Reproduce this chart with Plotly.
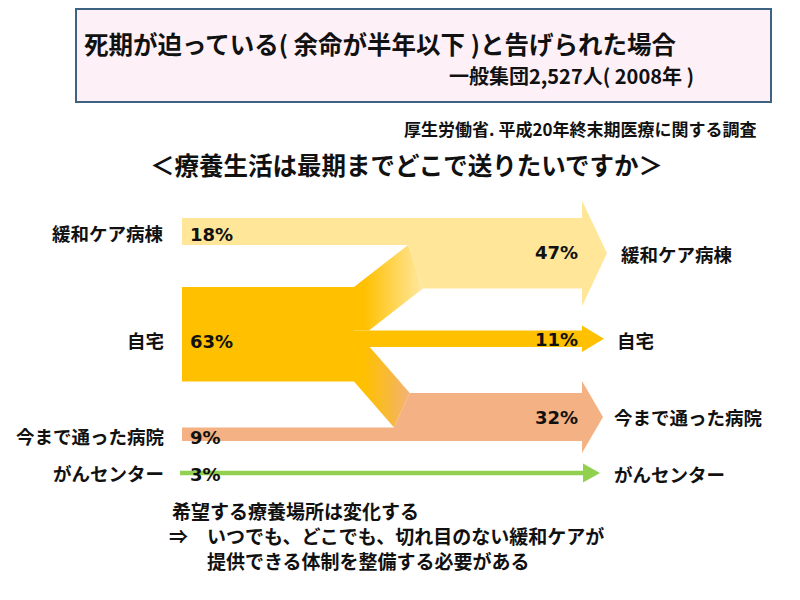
import math
import plotly.graph_objects as go

# ---------------- data ----------------
left_labels = ["緩和ケア病棟", "自宅", "今まで通った病院", "がんセンター"]
right_labels = ["緩和ケア病棟", "自宅", "今まで通った病院", "がんセンター"]
left_values = [18, 63, 9, 3]      # 現在の希望 (%)
right_values = [47, 11, 32, 3]    # 最期までの希望 (%)

title_text = "死期が迫っている( 余命が半年以下 )と告げられた場合"
subtitle_text = "一般集団2,527人( 2008年 )"
source_text = "厚生労働省. 平成20年終末期医療に関する調査"
heading_text = "＜療養生活は最期までどこで送りたいですか＞"
note_lines = ["希望する療養場所は変化する",
              "⇒　いつでも、どこでも、切れ目のない緩和ケアが",
              "提供できる体制を整備する必要がある"]

# flows from 自宅 (derived from the data)
home_to_pcu = right_values[0] - left_values[0]
home_to_home = right_values[1]
home_to_hosp = right_values[2] - left_values[2]

# ---------------- styles / layout ----------------
LIGHT = "#FFE699"
GOLD = "#FFC000"
SALMON = "#F4B183"
GREEN = "#92D050"
JP = "Noto Sans CJK JP"
NUM = "DejaVu Sans"

K = 1.5          # pixels per percent
X0 = 182         # left edge of the bands
XS = 354         # split position of 自宅 block
XE = 582         # end of arrow shafts
PCU_TOP = 218
HOME_TOP = 287
HOSP_BOT = 441
GREEN_Y = 473
L1, L2 = 54, 40  # horizontal run of the diagonal branches

fig = go.Figure()


def poly(xs, ys, color=None, grad=None):
    kw = dict(x=list(xs) + [xs[0]], y=list(ys) + [ys[0]], mode="lines",
              line=dict(width=0), fill="toself", hoverinfo="skip",
              showlegend=False)
    if grad:
        kw["fillgradient"] = grad
    else:
        kw["fillcolor"] = color
    fig.add_trace(go.Scatter(**kw))


# band geometry from values
pcu_small_b = PCU_TOP + left_values[0] * K
pcu_big_b = PCU_TOP + right_values[0] * K
home_b = HOME_TOP + left_values[1] * K
mid_t = HOME_TOP + home_to_pcu * K
mid_b = mid_t + home_to_home * K
hosp_t = HOSP_BOT - right_values[2] * K
hosp_mid = HOSP_BOT - left_values[2] * K

# upper diagonal branch (自宅 -> 緩和ケア病棟)
s1 = (pcu_small_b - HOME_TOP) / L1
V1 = home_to_pcu * K * math.sqrt(1 + s1 * s1)
Xr = XS + (pcu_big_b - HOME_TOP - V1) / s1
Xn1 = XS + (mid_t - HOME_TOP - V1) / s1

# lower diagonal branch (自宅 -> 今まで通った病院)
s2 = (hosp_mid - home_b) / L2
V2 = home_to_hosp * K * math.sqrt(1 + s2 * s2)
Xu = XS + (hosp_t - home_b + V2) / s2
Xn2 = XS + (mid_b - home_b + V2) / s2

# 緩和ケア病棟 arrow (its left end is cut along the branch)
ext = 0.25 * right_values[0] * K
cy = (PCU_TOP + pcu_big_b) / 2
poly([X0, XE, XE, XE + 25, XE, XE, Xr, XS + L1, X0],
     [PCU_TOP, PCU_TOP, PCU_TOP - ext, cy, pcu_big_b + ext, pcu_big_b,
      pcu_big_b, pcu_small_b, pcu_small_b], LIGHT)

# 今まで通った病院 arrow
ext = 0.25 * right_values[2] * K
cy = (hosp_t + HOSP_BOT) / 2
poly([X0, XE, XE, XE + 21, XE, XE, Xu, XS + L2, X0],
     [HOSP_BOT, HOSP_BOT, HOSP_BOT + ext, cy, hosp_t - ext, hosp_t,
      hosp_t, hosp_mid, hosp_mid], SALMON)

# 自宅 block
poly([X0, XS, XS, X0], [HOME_TOP, HOME_TOP, home_b, home_b], GOLD)

# 自宅 arrow
ext = 5
cy = (mid_t + mid_b) / 2
poly([XS, XE, XE, XE + 22, XE, XE, XS],
     [mid_t, mid_t, mid_t - ext, cy, mid_b + ext, mid_b, mid_b], GOLD)

# diagonal branches with gradients
poly([XS, XS + L1, Xr, Xn1, XS],
     [HOME_TOP, pcu_small_b, pcu_big_b, mid_t, mid_t],
     grad=dict(type="horizontal", colorscale=[[0, GOLD], [1, LIGHT]],
               start=XS + 10, stop=XS + 66))
poly([XS, XS + L2, Xu, Xn2, XS],
     [home_b, hosp_mid, hosp_t, mid_b, mid_b],
     grad=dict(type="horizontal",
               colorscale=[[0, GOLD], [0.6, "#F7B840"], [1, "#F4B27A"]],
               start=XS + 10, stop=Xu))

# がんセンター thin arrow
t = left_values[3] * K / 2
poly([X0 - 2, XE + 1, XE + 1, XE + 18, XE + 1, XE + 1, X0 - 2],
     [GREEN_Y - t, GREEN_Y - t, GREEN_Y - 9.5, GREEN_Y, GREEN_Y + 9.5,
      GREEN_Y + t, GREEN_Y + t], GREEN)

# ---------------- texts ----------------
ann = []


def txt(x, y, s, size, anchor="left", family=JP, color="#111111"):
    ann.append(dict(x=x, y=y, xref="x", yref="y", text=s,
                    showarrow=False, xanchor=anchor, yanchor="middle",
                    align="left",
                    font=dict(family=family, size=size, color=color,
                              weight="bold")))


txt(82, 43, title_text, 24.5)
txt(696, 75, subtitle_text, 20, "right")
txt(758, 128, source_text, 17, "right")
txt(148, 164, heading_text, 24.5)

left_y = [233, 340, 436, 473]
for lab, y in zip(left_labels, left_y):
    txt(166, y, lab, 18.5, "right")
for v, y in zip(left_values, left_y):
    txt(188, y + 1, f"{v}%", 18, family=NUM)

right_pct_y = [252, 339, 417]
for v, y in zip(right_values[:3], right_pct_y):
    txt(580, y, f"{v}%", 18, "right", family=NUM)

right_lab_x = [619, 615, 612, 612]
right_lab_y = [254, 340, 417, 474]
for lab, x, y in zip(right_labels, right_lab_x, right_lab_y):
    txt(x, y, lab, 18.5)

txt(170, 510, note_lines[0], 19)
txt(167, 535, note_lines[1], 19)
txt(205, 560, note_lines[2], 19)

fig.update_layout(
    width=800, height=600, autosize=False,
    margin=dict(l=0, r=0, t=0, b=0),
    paper_bgcolor="white", plot_bgcolor="white",
    xaxis=dict(range=[0, 800], visible=False, fixedrange=True),
    yaxis=dict(range=[600, 0], visible=False, fixedrange=True),
    annotations=ann,
    shapes=[dict(type="rect", xref="x", yref="y", x0=76, x1=771, y0=9, y1=102,
                 line=dict(color="#3E6382", width=2), fillcolor="#FDF0F7",
                 layer="below")],
)

fig.write_html("out.html")
